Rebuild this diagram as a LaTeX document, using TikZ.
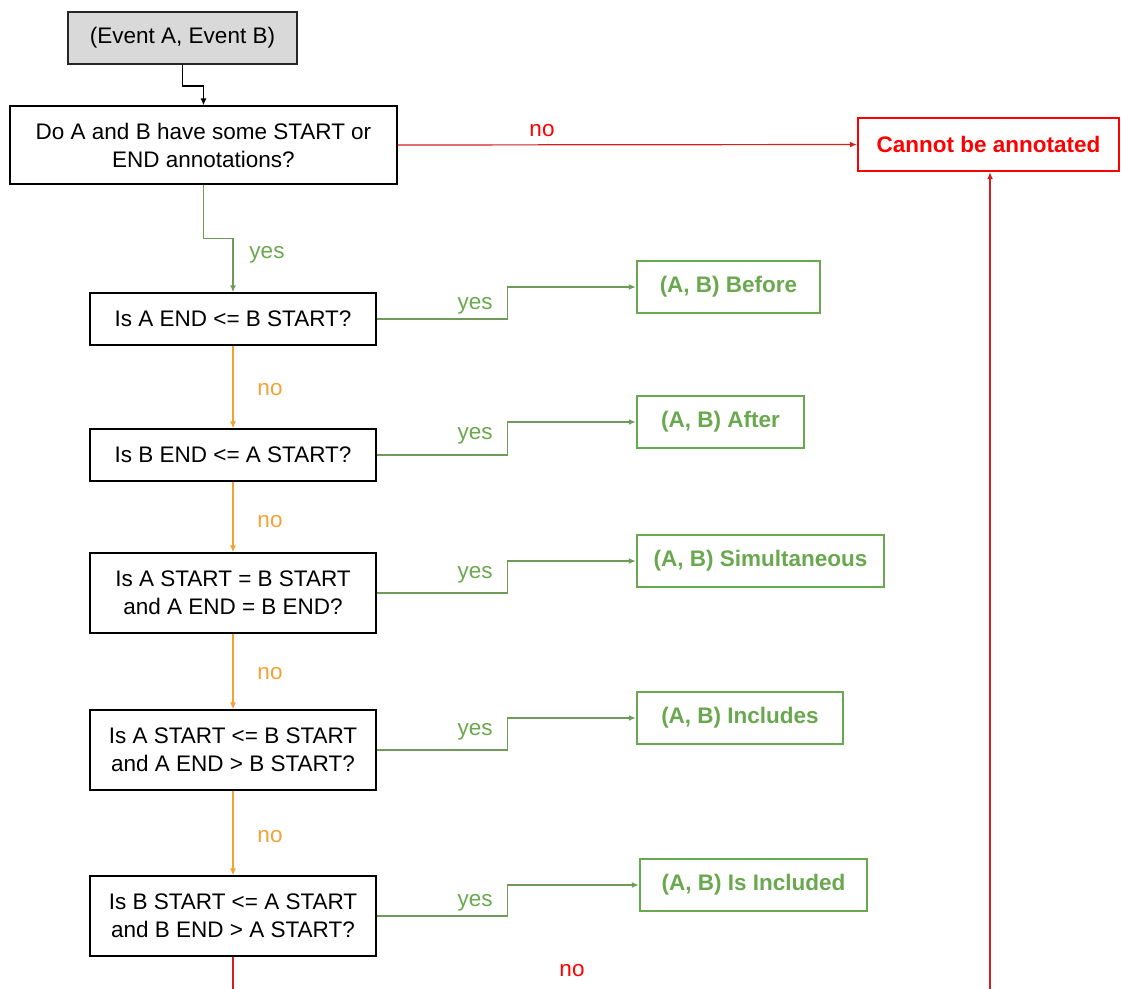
\documentclass[tikz,border=0pt]{standalone}
\usepackage{fontspec}
\setmainfont{Liberation Sans}
\usetikzlibrary{arrows.meta}
\definecolor{okgreen}{HTML}{6AA84F}
\definecolor{okline}{HTML}{6E9B58}
\definecolor{noorange}{HTML}{F3A236}
\definecolor{badred}{HTML}{FF0000}
\definecolor{badline}{HTML}{D02020}
\definecolor{startgray}{HTML}{D9D9D9}
\tikzset{
  txt/.style={font=\fontsize{22.5}{28}\selectfont},
  question/.style={txt, draw=black, line width=1.3pt, fill=white, align=center, inner sep=0pt},
  result/.style={txt, font=\bfseries\fontsize{22.5}{28}\selectfont, draw=okgreen, text=okgreen, line width=2.4pt, inner sep=0pt},
  startbox/.style={txt, draw=black!85, fill=startgray, line width=2pt, inner sep=0pt},
  failbox/.style={txt, font=\bfseries\fontsize{22.5}{28}\selectfont, draw=badred, text=badred, line width=2.4pt, inner sep=0pt},
  tip/.style={-{Latex[length=7pt,width=6pt]}},
  plainline/.style={tip, draw=black, line width=1.2pt},
  yesline/.style={tip, draw=okline, line width=1.4pt},
  noline/.style={tip, draw=noorange, line width=1.2pt},
  failline/.style={tip, draw=badline, line width=1.2pt},
  yeslabel/.style={txt, text=okgreen},
  nolabel/.style={txt, text=noorange},
  faillabel/.style={txt, text=badred},
}
\begin{document}
\begin{tikzpicture}[x=1pt,y=-1pt]
\useasboundingbox (0,0) rectangle (1121,988);

% start node and the first test
\node[startbox, minimum width=229, minimum height=52] (ev) at (182.5,38) {(Event A, Event B)};
\node[question, minimum width=387, minimum height=78] (q0) at (203.5,145) {Do A and B have some START or\\END annotations?};
\node[failbox, minimum width=261, minimum height=53] (fail) at (988.5,144.5) {Cannot be annotated};

% chain of interval tests
\node[question, minimum width=286, minimum height=52] (q1) at (233,319) {Is A END <= B START?};
\node[question, minimum width=286, minimum height=52] (q2) at (233,455) {Is B END <= A START?};
\node[question, minimum width=286, minimum height=80] (q3) at (233,593) {Is A START = B START\\and A END = B END?};
\node[question, minimum width=286, minimum height=80] (q4) at (233,750) {Is A START <= B START\\and A END > B START?};
\node[question, minimum width=286, minimum height=80] (q5) at (233,916) {Is B START <= A START\\and B END > A START?};

% outcomes
\node[result, minimum width=183, minimum height=52] (before) at (728.5,287) {(A, B) Before};
\node[result, minimum width=167, minimum height=52] (after) at (720.5,422) {(A, B) After};
\node[result, minimum width=247, minimum height=52] (simul) at (760.5,561) {(A, B) Simultaneous};
\node[result, minimum width=206, minimum height=52] (incl) at (740,718) {(A, B) Includes};
\node[result, minimum width=227, minimum height=52] (isincl) at (753.5,885) {(A, B) Is Included};

% connectors
\draw[plainline] (ev.south) -- ++(0,21) -| (q0.north);
\draw[failline] (q0.east) -- (fail.west);
\node[faillabel] (lno0) at (542,131) {no};
\draw[yesline] (q0.south) -- ++(0,54) -| (q1.north);
\node[yeslabel] (lyes0) at (267,255) {yes};

\draw[yesline] (q1.east) -- ++(131,0) |- (before.west);
\node[yeslabel] (ly1) at (475,306) {yes};
\draw[yesline] (q2.east) -- ++(131,0) |- (after.west);
\node[yeslabel] (ly2) at (475,436) {yes};
\draw[yesline] (q3.east) -- ++(131,0) |- (simul.west);
\node[yeslabel] (ly3) at (475,575) {yes};
\draw[yesline] (q4.east) -- ++(131,0) |- (incl.west);
\node[yeslabel] (ly4) at (475,732) {yes};
\draw[yesline] (q5.east) -- ++(131,0) |- (isincl.west);
\node[yeslabel] (ly5) at (475,903) {yes};

\draw[noline] (q1.south) -- (q2.north);
\node[nolabel] (ln1) at (270,390) {no};
\draw[noline] (q2.south) -- (q3.north);
\node[nolabel] (ln2) at (270,522) {no};
\draw[noline] (q3.south) -- (q4.north);
\node[nolabel] (ln3) at (270,674) {no};
\draw[noline] (q4.south) -- (q5.north);
\node[nolabel] (ln4) at (270,837) {no};

% last "no" leaves the frame and comes back to the failure box
\coordinate (outl) at (233,992);
\coordinate (outr) at (990,992);
\draw[failline,-] (q5.south) -- (outl);
\draw[failline] (outr) -- (outr |- fail.south);
\node[faillabel] (ln5) at (572,971) {no};
\end{tikzpicture}
\end{document}
